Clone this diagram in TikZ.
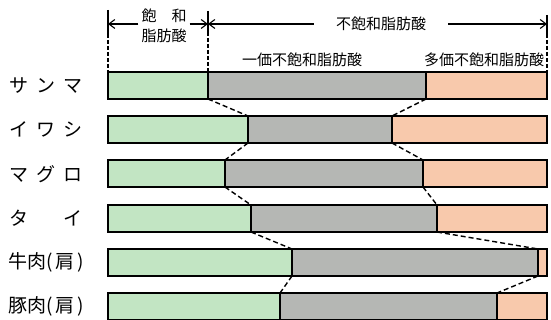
\documentclass[tikz,border=0pt]{standalone}
\usepackage{fontspec}
\setmainfont{Noto Sans CJK JP}
\usepackage{tikz}
\usetikzlibrary{positioning,calc,arrows.meta}

\definecolor{satgreen}{RGB}{194,229,195}
\definecolor{monogray}{RGB}{181,183,180}
\definecolor{polysalmon}{RGB}{248,201,172}

\begin{document}
\begin{tikzpicture}[x=1pt,y=-1pt,
    bar/.style={draw, line width=1.3pt, minimum height=27pt, inner sep=0pt, outer sep=0pt},
    satbar/.style={bar, fill=satgreen},
    monobar/.style={bar, fill=monogray},
    polybar/.style={bar, fill=polysalmon},
    fish/.style={anchor=west, inner sep=0pt, font=\fontsize{19pt}{20pt}\selectfont},
    head/.style={font=\fontsize{15pt}{20pt}\selectfont, inner ysep=0pt},
    link/.style={line width=1.4pt, dash pattern=on 5pt off 3pt},
    guide/.style={line width=1.1pt},
    span/.style={line width=1.1pt, -{Straight Barb[length=6pt,width=9pt]}}]
    \useasboundingbox (0,0) rectangle (551,320);

    % Define nodes
    \node[satbar, minimum width=100pt, anchor=north west] (sanma-s) at (108,72) {};
    \node[monobar, minimum width=218pt, right=0pt of sanma-s] (sanma-m) {};
    \node[polybar, minimum width=121pt, right=0pt of sanma-m] (sanma-p) {};
    \node[fish] (sanma) at (9,86) {サ\hspace{8pt}ン\hspace{8pt}マ};

    \node[satbar, minimum width=140pt, anchor=north west] (iwashi-s) at (108,116) {};
    \node[monobar, minimum width=144pt, right=0pt of iwashi-s] (iwashi-m) {};
    \node[polybar, minimum width=155pt, right=0pt of iwashi-m] (iwashi-p) {};
    \node[fish] (iwashi) at (9,129) {イ\hspace{8pt}ワ\hspace{8pt}シ};

    \node[satbar, minimum width=117pt, anchor=north west] (maguro-s) at (108,160) {};
    \node[monobar, minimum width=198pt, right=0pt of maguro-s] (maguro-m) {};
    \node[polybar, minimum width=124pt, right=0pt of maguro-m] (maguro-p) {};
    \node[fish] (maguro) at (9,174) {マ\hspace{8pt}グ\hspace{8pt}ロ};

    \node[satbar, minimum width=143pt, anchor=north west] (tai-s) at (108,205) {};
    \node[monobar, minimum width=186pt, right=0pt of tai-s] (tai-m) {};
    \node[polybar, minimum width=110pt, right=0pt of tai-m] (tai-p) {};
    \node[fish] (tai) at (9,218) {タ\hspace{35pt}イ};

    \node[satbar, minimum width=184pt, anchor=north west] (beef-s) at (108,249) {};
    \node[monobar, minimum width=246pt, right=0pt of beef-s] (beef-m) {};
    \node[polybar, minimum width=9pt, right=0pt of beef-m] (beef-p) {};
    \node[fish] (beef) at (8,262) {牛肉(\,肩\,)};

    \node[satbar, minimum width=172pt, anchor=north west] (pork-s) at (108,293) {};
    \node[monobar, minimum width=217pt, right=0pt of pork-s] (pork-m) {};
    \node[polybar, minimum width=50pt, right=0pt of pork-m] (pork-p) {};
    \node[fish] (pork) at (8,306) {豚肉(\,肩\,)};

    % Header
    \coordinate (t0) at (108,10);
    \coordinate (t1) at (208,11);
    \coordinate (t2) at (547,15);
    \coordinate (a0) at (108,24);
    \coordinate (a1) at (208,24);
    \coordinate (a2) at (547,24);
    \coordinate (m0) at (108,34);
    \coordinate (m1) at (208,32);
    \coordinate (m2) at (547,34);

    \node[head, align=center, inner xsep=3pt] (satlabel) at (164,26) {飽　和\\脂肪酸};
    \node[head, inner xsep=22pt] (unsatlabel) at (381,24) {不飽和脂肪酸};
    \node[head] (monolabel) at (302,60) {一価不飽和脂肪酸};
    \node[head] (polylabel) at (484,60) {多価不飽和脂肪酸};

    % Draw guides
    \draw[guide] (t0) -- (m0);
    \draw[guide] (t1) -- (m1);
    \draw[guide] (t2) -- (m2);
    \draw[guide, dash pattern=on 4pt off 2pt] (m0) -- (sanma-s.north west);
    \draw[guide, dash pattern=on 4pt off 2pt] (m1) -- (sanma-s.north east);
    \draw[guide, dash pattern=on 4pt off 2pt] (m2) -- (sanma-p.north east);

    % Draw arrows
    \draw[span] (satlabel.west |- a0) -- (a0);
    \draw[span] (satlabel.east |- a1) -- (a1);
    \draw[span] (unsatlabel.west |- a1) -- (a1);
    \draw[span] (unsatlabel.east |- a2) -- (a2);

    % Draw links
    \draw[link] (sanma-s.south east) -- (iwashi-s.north east);
    \draw[link] (sanma-m.south east) -- (iwashi-m.north east);
    \draw[link] (iwashi-s.south east) -- (maguro-s.north east);
    \draw[link] (iwashi-m.south east) -- (maguro-m.north east);
    \draw[link] (maguro-s.south east) -- (tai-s.north east);
    \draw[link] (maguro-m.south east) -- (tai-m.north east);
    \draw[link] (tai-s.south east) -- (beef-s.north east);
    \draw[link] (tai-m.south east) -- (beef-m.north east);
    \draw[link] (beef-s.south east) -- (pork-s.north east);
    \draw[link] (beef-m.south east) -- (pork-m.north east);
\end{tikzpicture}
\end{document}
